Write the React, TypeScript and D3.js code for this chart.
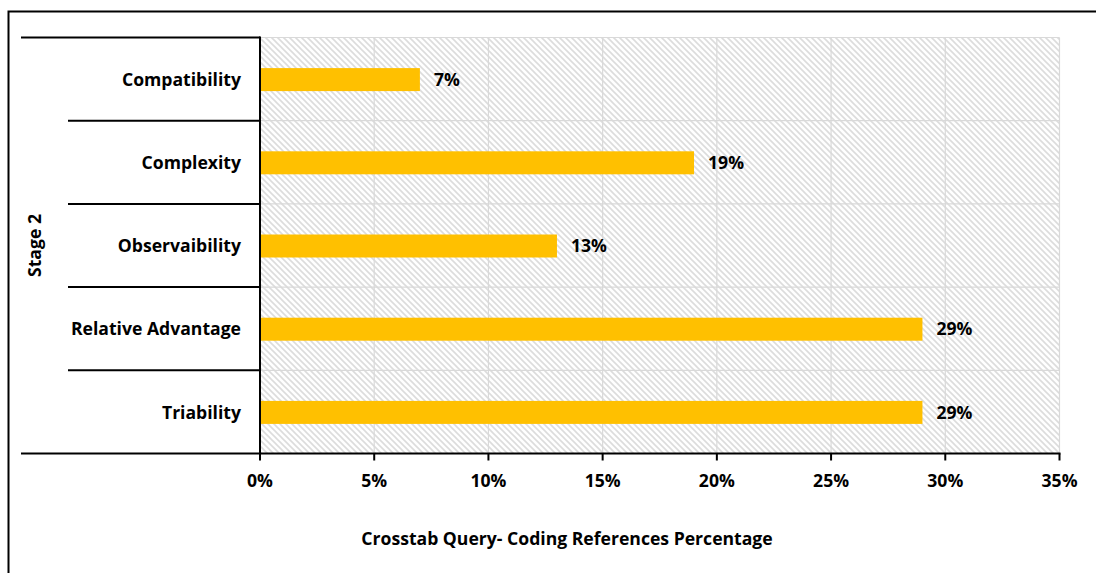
import React from "react";
import * as d3 from "d3";

// Coding references per attribute, Stage 2 (percent of total)
const categories: string[] = [
  "Compatibility",
  "Complexity",
  "Observaibility",
  "Relative Advantage",
  "Triability",
];
const values: number[] = [7, 19, 13, 29, 29];
const xTicks: number[] = [0, 5, 10, 15, 20, 25, 30, 35];
const groupLabel = "Stage 2";
const xTitle = "Crosstab Query- Coding References Percentage";

const W = 1096;
const H = 573;
const FONT = "'Open Sans', 'Liberation Sans', sans-serif";
const FS = 17.6;
const HP = 6; // hatch period

export default function App() {
  const left = 260;
  const right = 1059.5;
  const top = 37.5;
  const bottom = 453.5;

  const x = d3.scaleLinear().domain([0, 35]).range([left, right]);
  const y = d3
    .scaleBand<string>()
    .domain(categories)
    .range([top, bottom])
    .paddingInner(0)
    .paddingOuter(0);
  const barH = 23;
  const bw = y.bandwidth();

  return (
    <svg
      width={W}
      height={H}
      style={{ position: "absolute", left: 0, top: 0, background: "#fff" }}
    >
      <defs>
        <pattern id="hatch" patternUnits="userSpaceOnUse" width={HP} height={HP}>
          <rect width={HP} height={HP} fill="#fff" />
          <path
            d={`M-1,-1 L${HP + 1},${HP + 1} M-1,${HP - 1} L1,${HP + 1} M${HP - 1},-1 L${HP + 1},1`}
            stroke="#dcdcdc"
            strokeWidth={1.6}
          />
        </pattern>
      </defs>

      {/* chart frame */}
      <path
        d={`M8.5,${H + 2} L8.5,11.5 L${W + 2},11.5`}
        fill="none"
        stroke="#000"
        strokeWidth={2}
      />

      {/* plot background */}
      <rect
        x={left}
        y={top}
        width={right - left}
        height={bottom - top}
        fill="url(#hatch)"
      />

      {/* gridlines */}
      {xTicks.slice(1).map((t) => (
        <line
          key={`gx${t}`}
          x1={x(t)}
          x2={x(t)}
          y1={top}
          y2={bottom}
          stroke="#d9d9d9"
          strokeWidth={1.2}
        />
      ))}
      {categories.map((c) => (
        <line
          key={`gy${c}`}
          x1={left}
          x2={right}
          y1={y(c)!}
          y2={y(c)!}
          stroke="#d9d9d9"
          strokeWidth={1.2}
        />
      ))}

      {/* bars */}
      {categories.map((c, i) => (
        <rect
          key={`b${c}`}
          x={x(0)}
          y={y(c)! + bw / 2 - barH / 2 + 0.5}
          width={x(values[i]) - x(0)}
          height={barH}
          fill="#FFC000"
        />
      ))}

      {/* value labels */}
      {categories.map((c, i) => (
        <text
          key={`v${c}`}
          x={x(values[i]) + 14}
          y={y(c)! + bw / 2 + 2}
          dominantBaseline="middle"
          fontFamily={FONT}
          fontWeight={700}
          fontSize={FS}
          fill="#000"
        >
          {values[i]}%
        </text>
      ))}

      {/* category axis: vertical line and separators */}
      <line x1={left} x2={left} y1={top - 1} y2={bottom} stroke="#000" strokeWidth={2} />
      <line x1={21} x2={left} y1={top} y2={top} stroke="#000" strokeWidth={2} />
      {categories.slice(1).map((c) => (
        <line
          key={`sep${c}`}
          x1={68}
          x2={left}
          y1={y(c)!}
          y2={y(c)!}
          stroke="#000"
          strokeWidth={2}
        />
      ))}
      {categories.map((c) => (
        <text
          key={`l${c}`}
          x={left - 19}
          y={y(c)! + bw / 2 + 2}
          textAnchor="end"
          dominantBaseline="middle"
          fontFamily={FONT}
          fontWeight={700}
          fontSize={FS}
          fill="#000"
        >
          {c}
        </text>
      ))}
      <text
        transform={`translate(36,${(top + bottom) / 2}) rotate(-90)`}
        textAnchor="middle"
        dominantBaseline="middle"
        fontFamily={FONT}
        fontWeight={700}
        fontSize={FS}
        fill="#000"
      >
        {groupLabel}
      </text>

      {/* value axis */}
      <line x1={21} x2={right + 1} y1={bottom} y2={bottom} stroke="#000" strokeWidth={2} />
      {xTicks.map((t) => (
        <g key={`t${t}`}>
          <line
            x1={x(t)}
            x2={x(t)}
            y1={bottom}
            y2={bottom + 7}
            stroke="#000"
            strokeWidth={2}
          />
          <text
            x={x(t)}
            y={bottom + 28.5}
            textAnchor="middle"
            dominantBaseline="middle"
            fontFamily={FONT}
            fontWeight={700}
            fontSize={FS}
            fill="#000"
          >
            {t}%
          </text>
        </g>
      ))}
      <text
        x={567}
        y={540.5}
        textAnchor="middle"
        dominantBaseline="middle"
        fontFamily={FONT}
        fontWeight={700}
        fontSize={FS}
        fill="#000"
      >
        {xTitle}
      </text>
    </svg>
  );
}
